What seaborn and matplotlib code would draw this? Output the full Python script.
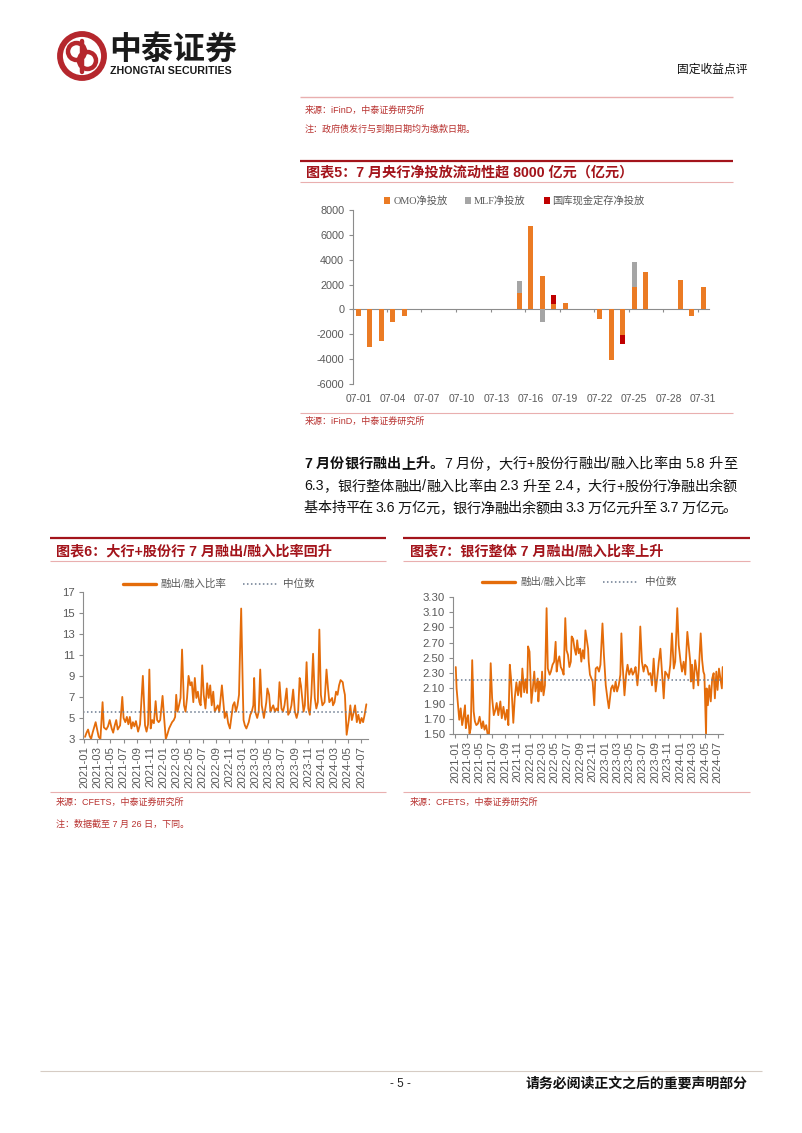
import matplotlib
matplotlib.use("Agg")
import matplotlib.pyplot as plt
import matplotlib.dates as mdates
from matplotlib.lines import Line2D
from matplotlib.patches import Circle, Rectangle
import numpy as np
import pandas as pd
import seaborn as sns

# ---------------- data ----------------
days = ["07-01", "07-02", "07-03", "07-04", "07-05", "07-06", "07-07", "07-08",
        "07-09", "07-10", "07-11", "07-12", "07-13", "07-14", "07-15", "07-16",
        "07-17", "07-18", "07-19", "07-20", "07-21", "07-22", "07-23", "07-24",
        "07-25", "07-26", "07-27", "07-28", "07-29", "07-30", "07-31"]
omo = [-500, -3000, -2500, -1000, -500, 0, 0, 0, 0, 0, 0, 0, 0, 0,
       1320, 6750, 2650, 430, 540, 0, 0, -730, -4100, -2080, 1780, 3000,
       0, 0, 2400, -540, 1840]
mlf = [0, 0, 0, 0, 0, 0, 0, 0, 0, 0, 0, 0, 0, 0,
       950, 0, -1050, 0, 0, 0, 0, 0, 0, 0, 2060, 0,
       0, 0, 0, 0, 0]
treasury = [0, 0, 0, 0, 0, 0, 0, 0, 0, 0, 0, 0, 0, 0,
            0, 0, 0, 700, 0, 0, 0, 0, 0, -730, 0, 0,
            0, 0, 0, 0, 0]
bar_series = ["OMO净投放", "MLF净投放", "国库现金定存净投放"]

big_dates = ["2021-01-04", "2021-01-11", "2021-01-18", "2021-01-25", "2021-02-01", "2021-02-08",
             "2021-02-22", "2021-03-01", "2021-03-08", "2021-03-16", "2021-03-26", "2021-04-01",
             "2021-04-12", "2021-04-20", "2021-04-28", "2021-05-07", "2021-05-14", "2021-05-20",
             "2021-05-28", "2021-06-04", "2021-06-15", "2021-06-25", "2021-07-01", "2021-07-09",
             "2021-07-16", "2021-07-23", "2021-07-30", "2021-08-06", "2021-08-13", "2021-08-20",
             "2021-08-27", "2021-09-06", "2021-09-15", "2021-09-28", "2021-10-08", "2021-10-15",
             "2021-10-22", "2021-10-28", "2021-11-03", "2021-11-10", "2021-11-18", "2021-11-26",
             "2021-12-03", "2021-12-10", "2021-12-17", "2021-12-28", "2022-01-05", "2022-01-12",
             "2022-01-20", "2022-01-27", "2022-02-10", "2022-02-18", "2022-02-24", "2022-03-01",
             "2022-03-07", "2022-03-14", "2022-03-21", "2022-03-28", "2022-04-06", "2022-04-13",
             "2022-04-20", "2022-04-27", "2022-05-05", "2022-05-12", "2022-05-19", "2022-05-26",
             "2022-06-02", "2022-06-09", "2022-06-16", "2022-06-22", "2022-06-29", "2022-07-06",
             "2022-07-14", "2022-07-22", "2022-07-29", "2022-08-05", "2022-08-12", "2022-08-19",
             "2022-08-26", "2022-09-02", "2022-09-09", "2022-09-16", "2022-09-28", "2022-10-11",
             "2022-10-19", "2022-10-27", "2022-11-04", "2022-11-11", "2022-11-18", "2022-11-25",
             "2022-12-02", "2022-12-09", "2022-12-16", "2022-12-21", "2022-12-26", "2023-01-03",
             "2023-01-06", "2023-01-12", "2023-01-19", "2023-01-30", "2023-02-06", "2023-02-13",
             "2023-02-20", "2023-02-24", "2023-03-01", "2023-03-10", "2023-03-17", "2023-03-24",
             "2023-03-31", "2023-04-10", "2023-04-21", "2023-04-26", "2023-05-04", "2023-05-10",
             "2023-05-16", "2023-05-23", "2023-05-31", "2023-06-07", "2023-06-14", "2023-06-21",
             "2023-06-30", "2023-07-07", "2023-07-14", "2023-07-24", "2023-07-31", "2023-08-08",
             "2023-08-15", "2023-08-23", "2023-08-31", "2023-09-08", "2023-09-15", "2023-09-22",
             "2023-09-28", "2023-10-10", "2023-10-16", "2023-10-24", "2023-11-01", "2023-11-08",
             "2023-11-15", "2023-11-23", "2023-12-01", "2023-12-08", "2023-12-15", "2023-12-22",
             "2023-12-29", "2024-01-05", "2024-01-15", "2024-01-24", "2024-01-31", "2024-02-06",
             "2024-02-19", "2024-02-23", "2024-03-01", "2024-03-08", "2024-03-15", "2024-03-22",
             "2024-03-29", "2024-04-08", "2024-04-12", "2024-04-18", "2024-04-26", "2024-05-06",
             "2024-05-13", "2024-05-20", "2024-05-27", "2024-06-04", "2024-06-12", "2024-06-19",
             "2024-06-27", "2024-07-04", "2024-07-11", "2024-07-18", "2024-07-26"]
big_ratio = [3.2, 3.6, 3.9, 3.3, 3.0, 3.6,
             4.6, 3.9, 3.2, 3.0, 6.5, 4.1,
             3.9, 4.2, 4.8, 4.0, 3.6, 4.2,
             4.8, 3.9, 4.3, 7.0, 5.0, 4.6,
             5.1, 4.4, 5.1, 4.0, 4.6, 4.2,
             4.7, 3.7, 4.4, 9.0, 4.3, 3.7,
             4.4, 9.6, 4.0, 4.8, 4.5, 6.6,
             4.8, 4.6, 4.8, 7.1, 4.8, 3.0,
             3.5, 4.0, 4.6, 4.8, 5.1, 7.2,
             5.6, 6.2, 6.9, 11.5, 6.2, 5.6,
             6.9, 9.0, 8.1, 8.4, 6.5, 8.8,
             6.9, 7.5, 6.5, 6.2, 10.0, 7.2,
             5.9, 8.3, 6.9, 8.1, 6.2, 7.5,
             5.6, 5.9, 6.2, 5.6, 8.1, 5.0,
             5.6, 4.5, 4.0, 5.1, 6.2, 6.5,
             5.6, 6.2, 7.2, 11.6, 15.4, 7.2,
             4.8, 4.3, 4.0, 4.6, 5.3, 5.6,
             6.2, 8.8, 5.6, 5.0, 5.6, 9.6,
             6.2, 5.0, 6.5, 7.8, 7.2, 5.6,
             5.9, 6.2, 5.6, 5.9, 5.7, 8.4,
             5.9, 5.6, 6.2, 7.8, 5.3, 5.6,
             6.2, 7.7, 5.6, 5.0, 5.6, 8.8,
             8.1, 5.6, 6.2, 10.3, 5.9, 5.3,
             7.2, 11.1, 6.9, 5.9, 6.5, 13.4,
             7.2, 6.2, 6.5, 9.6, 7.8, 6.5,
             6.9, 6.2, 6.5, 7.5, 7.2, 8.1,
             8.6, 8.4, 7.8, 7.2, 3.4, 4.8,
             6.2, 4.8, 5.4, 6.2, 4.6, 5.3,
             4.5, 5.0, 4.6, 5.3, 6.3]
big_median = 5.55

all_dates = ["2021-01-04", "2021-01-08", "2021-01-15", "2021-01-21", "2021-01-28", "2021-02-04",
             "2021-02-10", "2021-02-18", "2021-02-22", "2021-03-01", "2021-03-05", "2021-03-12",
             "2021-03-18", "2021-03-25", "2021-04-01", "2021-04-07", "2021-04-14", "2021-04-22",
             "2021-04-30", "2021-05-10", "2021-05-17", "2021-05-24", "2021-06-01", "2021-06-08",
             "2021-06-15", "2021-06-23", "2021-06-30", "2021-07-08", "2021-07-16", "2021-07-22",
             "2021-07-30", "2021-08-09", "2021-08-16", "2021-08-24", "2021-09-02", "2021-09-10",
             "2021-09-17", "2021-09-24", "2021-09-30", "2021-10-11", "2021-10-18", "2021-10-26",
             "2021-11-03", "2021-11-11", "2021-11-18", "2021-11-24", "2021-12-03", "2021-12-10",
             "2021-12-17", "2021-12-22", "2021-12-29", "2022-01-07", "2022-01-14", "2022-01-21",
             "2022-01-27", "2022-02-07", "2022-02-10", "2022-02-16", "2022-02-24", "2022-02-28",
             "2022-03-07", "2022-03-14", "2022-03-22", "2022-03-28", "2022-04-06", "2022-04-12",
             "2022-04-20", "2022-04-28", "2022-05-05", "2022-05-10", "2022-05-16", "2022-05-23",
             "2022-05-30", "2022-06-06", "2022-06-13", "2022-06-21", "2022-06-27", "2022-07-04",
             "2022-07-11", "2022-07-18", "2022-07-22", "2022-07-29", "2022-08-05", "2022-08-12",
             "2022-08-18", "2022-08-25", "2022-09-01", "2022-09-07", "2022-09-14", "2022-09-21",
             "2022-09-27", "2022-10-10", "2022-10-13", "2022-10-19", "2022-10-26", "2022-11-01",
             "2022-11-09", "2022-11-16", "2022-11-24", "2022-12-02", "2022-12-09", "2022-12-19",
             "2022-12-26", "2023-01-04", "2023-01-12", "2023-01-19", "2023-01-30", "2023-02-06",
             "2023-02-14", "2023-02-21", "2023-02-28", "2023-03-08", "2023-03-16", "2023-03-21",
             "2023-03-27", "2023-04-05", "2023-04-13", "2023-04-20", "2023-04-28", "2023-05-08",
             "2023-05-15", "2023-05-23", "2023-05-29", "2023-06-07", "2023-06-14", "2023-06-21",
             "2023-06-29", "2023-07-07", "2023-07-14", "2023-07-24", "2023-08-01", "2023-08-09",
             "2023-08-17", "2023-08-25", "2023-09-04", "2023-09-11", "2023-09-19", "2023-09-27",
             "2023-10-09", "2023-10-13", "2023-10-20", "2023-10-30", "2023-11-06", "2023-11-14",
             "2023-11-22", "2023-12-01", "2023-12-08", "2023-12-18", "2023-12-25", "2024-01-03",
             "2024-01-10", "2024-01-18", "2024-01-26", "2024-02-05", "2024-02-19", "2024-02-22",
             "2024-02-28", "2024-03-06", "2024-03-14", "2024-03-22", "2024-03-29", "2024-04-03",
             "2024-04-10", "2024-04-17", "2024-04-23", "2024-04-28", "2024-05-06", "2024-05-09",
             "2024-05-15", "2024-05-22", "2024-05-29", "2024-06-05", "2024-06-12", "2024-06-18",
             "2024-06-25", "2024-07-01", "2024-07-08", "2024-07-15", "2024-07-22", "2024-07-26"]
all_ratio = [2.38, 2.10, 1.88, 1.69, 1.84, 1.62,
             1.71, 1.88, 1.58, 1.71, 1.75, 1.51,
             1.58, 2.47, 1.80, 1.67, 1.62, 1.64,
             1.73, 1.58, 1.67, 1.56, 1.62, 1.50,
             1.51, 2.43, 1.97, 1.75, 1.82, 1.91,
             1.75, 1.93, 1.71, 1.86, 1.69, 1.82,
             1.62, 2.41, 2.23, 1.65, 1.97, 2.18,
             2.01, 2.19, 1.99, 2.36, 2.05, 2.22,
             2.04, 2.65, 2.58, 1.91, 2.10, 2.32,
             2.06, 2.23, 1.93, 2.19, 2.06, 2.32,
             2.01, 2.14, 3.15, 2.36, 2.28, 2.32,
             2.41, 2.45, 2.71, 2.32, 2.45, 2.52,
             2.38, 2.34, 2.28, 3.02, 2.60, 2.54,
             2.38, 2.45, 2.78, 2.75, 2.62, 2.54,
             2.73, 2.56, 2.62, 2.45, 2.60, 2.49,
             2.86, 2.62, 2.45, 2.28, 2.23, 2.19,
             1.88, 2.36, 2.38, 2.32, 2.41, 2.95,
             2.54, 2.14, 1.97, 1.84, 2.10, 2.14,
             2.06, 2.19, 2.06, 2.14, 2.28, 2.82,
             2.41, 2.01, 2.28, 2.41, 2.28, 2.36,
             2.28, 2.32, 2.38, 2.14, 2.36, 2.91,
             2.45, 2.32, 2.41, 2.38, 2.28, 2.30,
             2.14, 2.49, 2.06, 2.23, 2.45, 2.62,
             2.14, 1.97, 2.32, 2.28, 2.23, 2.41,
             2.82, 2.36, 2.45, 3.15, 2.67, 2.45,
             2.32, 2.45, 2.28, 2.84, 2.45, 2.19,
             2.41, 2.10, 2.47, 2.32, 2.14, 2.45,
             2.82, 2.47, 2.32, 2.28, 1.49, 2.10,
             1.88, 2.14, 1.93, 2.23, 2.30, 1.97,
             2.32, 2.08, 2.36, 2.23, 2.10, 2.38]
all_median = 2.21
line_labels = ["融出/融入比率", "中位数"]

# ---------------- style ----------------
sns.set_theme(style="white")
plt.rcParams["font.family"] = ["Liberation Sans", "Noto Sans CJK SC", "DejaVu Sans"]
plt.rcParams["axes.unicode_minus"] = False

ORANGE = "#EB7B24"
LINE_OR = "#E46C0A"
GRAY = "#A5A5A5"
RED = "#C00000"
DARK_RED = "#A3141B"
PINK = "#E9AFAF"
TXT_RED = "#B8312F"
AX_GRAY = "#8C8C8C"
LBL = "#595959"
SERIF = ["Liberation Serif", "Noto Sans CJK SC"]

W, H = 802, 1133
fig = plt.figure(figsize=(W / 100, H / 100), dpi=100)
fig.patch.set_facecolor("white")


def fx(x):
    return x / W


def fy(y):
    return 1 - y / H


def add_ax(x0, y0, x1, y1):
    return fig.add_axes([fx(x0), fy(y1), (x1 - x0) / W, (y1 - y0) / H])


def hline(x0, x1, y, color, lw):
    fig.add_artist(Line2D([fx(x0), fx(x1)], [fy(y), fy(y)], transform=fig.transFigure,
                          color=color, lw=lw, solid_capstyle="butt"))


def ftext(x, y, s, size, color="black", ha="left", weight="normal", family=None):
    kw = {}
    if family is not None:
        kw["family"] = family
    return fig.text(fx(x), fy(y), s, fontsize=size, color=color, ha=ha, va="center",
                    weight=weight, **kw)


# ---------------- header ----------------
lax = add_ax(57, 31, 107, 81)
lax.set_xlim(-1, 1)
lax.set_ylim(-1, 1)
lax.set_aspect("equal")
lax.axis("off")
LOGO = "#B5272D"
lax.add_patch(Circle((0, 0), 0.88, fill=False, ec=LOGO, lw=4.2))
lax.add_patch(Circle((-0.22, 0.18), 0.34, fill=False, ec=LOGO, lw=3.2))
lax.add_patch(Circle((0.22, -0.18), 0.34, fill=False, ec=LOGO, lw=3.2))
lax.plot([0, 0], [-0.62, 0.62], color=LOGO, lw=3.2)

ftext(109, 50, "中泰证券", 23, color="#1A1A1A", weight="bold", family=["Noto Sans CJK SC"])
ftext(110, 71.5, "ZHONGTAI SECURITIES", 7.7, color="#1A1A1A", weight="bold")
ftext(748, 70, "固定收益点评", 8.5, ha="right", color="#111111")

hline(300, 733, 97, PINK, 1.0)
ftext(305, 110, "来源：iFinD，中泰证券研究所", 6.5, color=TXT_RED)
ftext(305, 129, "注：政府债发行与到期日期均为缴款日期。", 6.5, color=TXT_RED)

# ---------------- chart 5 ----------------
hline(300, 733, 161, DARK_RED, 1.6)
ftext(306, 172.5, "图表5：7 月央行净投放流动性超 8000 亿元（亿元）", 10.2,
      color=DARK_RED, weight="bold")
hline(300, 733, 182, PINK, 0.8)
hline(300, 733, 413, PINK, 0.8)
ftext(305, 421.5, "来源：iFinD，中泰证券研究所", 6.5, color=TXT_RED)

ax5 = add_ax(352.5, 210, 709, 384)
omo_a = np.array(omo, dtype=float)
mlf_a = np.array(mlf, dtype=float)
tr_a = np.array(treasury, dtype=float)
pos_base = np.where(omo_a > 0, omo_a, 0.0)
neg_base = np.where(omo_a < 0, omo_a, 0.0)
mlf_bottom = np.where(mlf_a >= 0, pos_base, neg_base)
pos_base = pos_base + np.where(mlf_a > 0, mlf_a, 0.0)
neg_base = neg_base + np.where(mlf_a < 0, mlf_a, 0.0)
tr_bottom = np.where(tr_a >= 0, pos_base, neg_base)

df5 = pd.DataFrame({"day": days, "omo": omo_a, "mlf": mlf_a, "tr": tr_a})
sns.barplot(data=df5, x="day", y="omo", order=days, color=ORANGE, width=0.42,
            errorbar=None, saturation=1, ax=ax5)
sns.barplot(data=df5, x="day", y="mlf", order=days, color=GRAY, width=0.42,
            errorbar=None, saturation=1, bottom=mlf_bottom, ax=ax5)
sns.barplot(data=df5, x="day", y="tr", order=days, color=RED, width=0.42,
            errorbar=None, saturation=1, bottom=tr_bottom, ax=ax5)
for p in ax5.patches:
    p.set_linewidth(0)
ax5.set_ylim(-6000, 8000)
ax5.set_xlim(-0.5, len(days) - 0.5)
ax5.set_yticks(np.arange(-6000, 8001, 2000))
ax5.set_xticks(range(0, len(days), 3))
ax5.set_xticklabels(days[::3])
ax5.set_xlabel("")
ax5.set_ylabel("")
for s in ["top", "right", "bottom"]:
    ax5.spines[s].set_visible(False)
ax5.spines["left"].set_color(AX_GRAY)
ax5.spines["left"].set_linewidth(0.8)
ax5.tick_params(axis="y", left=True, length=3, width=0.8, color=AX_GRAY,
                labelsize=7.8, labelcolor=LBL, pad=3)
ax5.tick_params(axis="x", bottom=False, length=0, labelsize=7.4, labelcolor=LBL, pad=7)
zero = ax5.secondary_xaxis(6000 / 14000)
zero.set_xticks(np.arange(2.5, len(days) - 1, 3))
zero.set_xticklabels([])
zero.tick_params(axis="x", direction="out", length=2.5, width=0.8, color=AX_GRAY, bottom=True)
zero.spines["bottom"].set_color(AX_GRAY)
zero.spines["bottom"].set_linewidth(0.8)

# chart 5 legend
leg_items = [(387, ORANGE, bar_series[0], 394), (467.5, GRAY, bar_series[1], 474),
             (546.5, RED, bar_series[2], 552.5)]
for sx, col, lab, tx in leg_items:
    fig.add_artist(Rectangle((fx(sx - 3), fy(200.5 + 3)), 6 / W, 6 / H,
                             transform=fig.transFigure, color=col, lw=0))
    ftext(tx, 200.5, lab, 7.4, color=LBL, family=SERIF)

# ---------------- paragraph ----------------
renderer = fig.canvas.get_renderer()


def justify_line(y, x0, x1, segments, size):
    tokens = []
    for s, wgt in segments:
        buf = ""
        for ch in s:
            if ord(ch) < 128 and ch != " ":
                buf += ch
            else:
                if buf:
                    tokens.append((buf, wgt))
                    buf = ""
                tokens.append((ch, wgt))
        if buf:
            tokens.append((buf, wgt))
    arts, widths = [], []
    for t, wgt in tokens:
        if t == " ":
            arts.append(None)
            widths.append(size * 100 / 72 * 0.25)
            continue
        a = fig.text(0, fy(y), t, fontsize=size, weight=wgt, va="center", ha="left",
                     color="#111111")
        widths.append(a.get_window_extent(renderer).width)
        arts.append(a)
    gap = (x1 - x0 - sum(widths)) / max(len(tokens) - 1, 1)
    x = x0
    for a, wd in zip(arts, widths):
        if a is not None:
            a.set_x(fx(x))
        x += wd + gap


justify_line(464, 304, 737, [("7 月份银行融出上升。", "bold"),
                             ("7 月份，大行+股份行融出/融入比率由 5.8 升至", "normal")], 10.2)
justify_line(486.5, 304, 737, [("6.3，银行整体融出/融入比率由 2.3 升至 2.4，大行+股份行净融出余额", "normal")], 10.2)
justify_line(508.5, 304, 737, [("基本持平在 3.6 万亿元，银行净融出余额由 3.3 万亿元升至 3.7 万亿元。", "normal")], 10.2)


# ---------------- line charts ----------------
def line_chart(ax, dates, vals, median, ylim, yticks, yfmt, xlim):
    df = pd.DataFrame({"date": pd.to_datetime(dates), "val": vals})
    sns.lineplot(data=df, x="date", y="val", color=LINE_OR, lw=1.3, ax=ax)
    ax.axhline(median, color="#6B7A8F", lw=1.1, ls=(0, (1, 1.6)))
    ax.set_ylim(*ylim)
    ax.set_yticks(yticks)
    ax.yaxis.set_major_formatter(plt.FormatStrFormatter(yfmt))
    ax.set_xlim(pd.Timestamp(xlim[0]), pd.Timestamp(xlim[1]))
    ax.xaxis.set_major_locator(mdates.MonthLocator(bymonth=[1, 3, 5, 7, 9, 11]))
    ax.xaxis.set_major_formatter(mdates.DateFormatter("%Y-%m"))
    ax.set_xlabel("")
    ax.set_ylabel("")
    for s in ["top", "right"]:
        ax.spines[s].set_visible(False)
    for s in ["left", "bottom"]:
        ax.spines[s].set_color(AX_GRAY)
        ax.spines[s].set_linewidth(0.8)
    ax.tick_params(axis="y", left=True, length=3, width=0.8, color=AX_GRAY,
                   labelsize=8.2, labelcolor=LBL, pad=3)
    ax.tick_params(axis="x", bottom=True, length=3, width=0.8, color=AX_GRAY,
                   labelsize=8.2, labelcolor=LBL, pad=2, labelrotation=90)


def line_legend(x_line, x_text, x_dot, x_text2, y):
    fig.add_artist(Line2D([fx(x_line), fx(x_line + 33)], [fy(y), fy(y)],
                          transform=fig.transFigure, color=LINE_OR, lw=2.4))
    ftext(x_text, y, line_labels[0], 7.6, color=LBL, family=SERIF)
    fig.add_artist(Line2D([fx(x_dot), fx(x_dot + 34)], [fy(y), fy(y)],
                          transform=fig.transFigure, color="#6B7A8F", lw=1.1,
                          ls=(0, (1, 1.6))))
    ftext(x_text2, y, line_labels[1], 7.6, color=LBL, family=SERIF)


# chart 6
hline(50, 386, 537.5, DARK_RED, 1.6)
ftext(56, 551.5, "图表6：大行+股份行 7 月融出/融入比率回升", 10.2, color=DARK_RED, weight="bold")
hline(50, 386, 561.5, PINK, 0.8)
line_legend(123, 160, 243, 283, 583.5)
ax6 = add_ax(83.3, 591.7, 368.3, 739)
line_chart(ax6, big_dates, big_ratio, big_median, (3, 17), np.arange(3, 18, 2), "%d",
           ("2020-12-27", "2024-08-04"))
hline(50, 386, 792, PINK, 0.8)
ftext(56, 802.5, "来源：CFETS，中泰证券研究所", 6.5, color=TXT_RED)
ftext(56, 824.5, "注：数据截至 7 月 26 日，下同。", 6.5, color=TXT_RED)

# chart 7
hline(403, 750, 537.5, DARK_RED, 1.6)
ftext(410, 551.5, "图表7：银行整体 7 月融出/融入比率上升", 10.2, color=DARK_RED, weight="bold")
hline(403, 750, 561.5, PINK, 0.8)
line_legend(482, 520, 603, 645, 581.7)
ax7 = add_ax(453.3, 596.7, 723.3, 734.3)
line_chart(ax7, all_dates, all_ratio, all_median, (1.5, 3.3),
           [1.5, 1.7, 1.9, 2.1, 2.3, 2.5, 2.7, 2.9, 3.1, 3.3], "%.2f",
           ("2020-12-23", "2024-07-29"))
hline(403, 750, 792, PINK, 0.8)
ftext(410, 802.5, "来源：CFETS，中泰证券研究所", 6.5, color=TXT_RED)

# ---------------- footer ----------------
hline(40, 762, 1071, "#D6CCC4", 0.8)
ftext(400, 1084, "- 5 -", 8.5, ha="center", color="#222222")
ftext(748, 1084, "请务必阅读正文之后的重要声明部分", 10, ha="right", weight="bold", color="#111111")

fig.savefig("out.png", dpi=100, facecolor="white")
